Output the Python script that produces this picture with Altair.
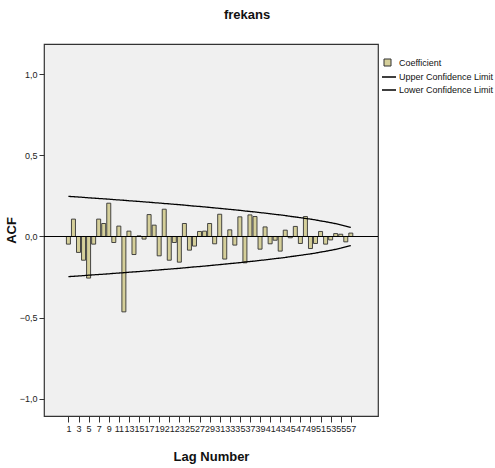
import altair as alt
import pandas as pd

# Autocorrelation coefficients for lags 1..57 of "frekans"
lags = list(range(1, 58))
acf = [
    -0.047, 0.107, -0.098, -0.146, -0.256, -0.047, 0.107, 0.080, 0.205, -0.037,
    0.064, -0.464, 0.033, -0.111, 0.004, -0.016, 0.135, 0.070, -0.119, 0.168,
    -0.146, -0.037, -0.158, 0.080, -0.084, -0.059, 0.031, 0.033, 0.080, -0.045,
    0.137, -0.139, 0.041, -0.053, 0.121, -0.162, 0.133, 0.123, -0.078, 0.059,
    -0.045, -0.023, -0.090, 0.039, -0.008, 0.062, -0.043, 0.123, -0.074, -0.043,
    0.031, -0.047, -0.021, 0.018, 0.014, -0.033, 0.021,
]

# Confidence limits per lag
upper = [
    0.247, 0.245, 0.243, 0.241, 0.238, 0.236, 0.234, 0.232, 0.230, 0.227,
    0.225, 0.223, 0.220, 0.218, 0.216, 0.213, 0.211, 0.208, 0.206, 0.203,
    0.201, 0.198, 0.196, 0.193, 0.190, 0.187, 0.185, 0.182, 0.179, 0.176,
    0.173, 0.170, 0.167, 0.164, 0.161, 0.157, 0.154, 0.151, 0.147, 0.144,
    0.140, 0.136, 0.133, 0.129, 0.124, 0.120, 0.116, 0.111, 0.107, 0.102,
    0.096, 0.091, 0.085, 0.079, 0.072, 0.064, 0.056,
]
lower = [
    -0.247, -0.245, -0.243, -0.241, -0.238, -0.236, -0.234, -0.232, -0.230, -0.227,
    -0.225, -0.223, -0.220, -0.218, -0.216, -0.213, -0.211, -0.208, -0.206, -0.203,
    -0.201, -0.198, -0.196, -0.193, -0.190, -0.187, -0.185, -0.182, -0.179, -0.176,
    -0.173, -0.170, -0.167, -0.164, -0.161, -0.157, -0.154, -0.151, -0.147, -0.144,
    -0.140, -0.136, -0.133, -0.129, -0.124, -0.120, -0.116, -0.111, -0.107, -0.102,
    -0.096, -0.091, -0.085, -0.079, -0.072, -0.064, -0.056,
]

x_ticks = list(range(1, 58, 2))
y_ticks = [-1.0, -0.5, 0.0, 0.5, 1.0]

FONT = "Liberation Sans"
BAR_FILL = "#d5cf9a"
UPPER_LABEL = "Upper Confidence Limit"
LOWER_LABEL = "Lower Confidence Limit"

bars_df = pd.DataFrame({"lag": lags, "acf": acf, "series": ["Coefficient"] * len(lags)})
limits_df = pd.DataFrame({
    "lag": lags + lags,
    "limit": upper + lower,
    "kind": [UPPER_LABEL] * len(lags) + [LOWER_LABEL] * len(lags),
})
zero_df = pd.DataFrame({"y": [0.0]})

x_scale = alt.Scale(domain=[-2.85, 61.4], nice=False, zero=False)
y_scale = alt.Scale(domain=[-1.105, 1.185], nice=False, zero=False)

x_axis = alt.Axis(
    values=x_ticks, tickCount=len(x_ticks) + 5, title="Lag Number",
    labelOverlap=False, labelFlush=False,
    grid=False, domain=False, tickSize=6, tickColor="#333333",
    labelFontSize=9, labelColor="#222222", labelFont=FONT, labelPadding=2,
    titleFont=FONT, titleFontSize=13, titleFontWeight="bold", titleColor="#111111",
    titlePadding=17,
)
y_axis = alt.Axis(
    values=y_ticks, title="ACF", grid=False, domain=False, tickSize=5,
    tickColor="#333333", labelFontSize=9, labelColor="#222222", labelFont=FONT,
    labelExpr="replace(format(datum.value, '.1f'), '.', ',')", labelPadding=2,
    titleFont=FONT, titleFontSize=13, titleFontWeight="bold", titleColor="#111111",
    titlePadding=1,
)

bars = alt.Chart(bars_df).mark_bar(
    size=4, stroke="#333333", strokeWidth=0.9
).encode(
    x=alt.X("lag:Q", scale=x_scale, axis=x_axis),
    y=alt.Y("acf:Q", scale=y_scale, axis=y_axis),
    fill=alt.Fill(
        "series:N",
        scale=alt.Scale(domain=["Coefficient"], range=[BAR_FILL]),
        legend=alt.Legend(
            title=None, orient="none", legendX=339, legendY=14, padding=0,
            symbolType="square", symbolSize=49, symbolStrokeColor="#333333",
            symbolStrokeWidth=1, labelFont=FONT, labelFontSize=9,
            labelColor="#111111", labelOffset=7,
        ),
    ),
)

zero_line = alt.Chart(zero_df).mark_rule(color="black", strokeWidth=1.2).encode(
    y=alt.Y("y:Q", scale=y_scale)
)

limits = alt.Chart(limits_df).mark_line(color="black", strokeWidth=1.3).encode(
    x=alt.X("lag:Q", scale=x_scale),
    y=alt.Y("limit:Q", scale=y_scale),
    strokeDash=alt.StrokeDash(
        "kind:N",
        scale=alt.Scale(domain=[UPPER_LABEL, LOWER_LABEL], range=[[1, 0], [1, 0]]),
        legend=alt.Legend(
            title=None, orient="none", legendX=337, legendY=25, padding=0,
            symbolType="stroke", symbolSize=196, symbolStrokeColor="black",
            symbolStrokeWidth=1.3, labelFont=FONT, labelFontSize=9,
            labelColor="#111111", labelOffset=2, rowPadding=0,
        ),
    ),
)

chart = alt.layer(bars, zero_line, limits).properties(
    width=334,
    height=372,
    title=alt.TitleParams(
        "frekans", font=FONT, fontSize=13, fontWeight="bold", color="#111111",
        anchor="middle", dx=36, offset=22,
    ),
    autosize=alt.AutoSizeParams(type="none"),
    padding={"left": 44, "top": 44, "right": 117, "bottom": 52},
    background="white",
).configure_view(
    fill="#f0f0f0", stroke="#333333", strokeWidth=1.2
)

chart.save("out.html", embed_options={"renderer": "svg", "actions": False})
